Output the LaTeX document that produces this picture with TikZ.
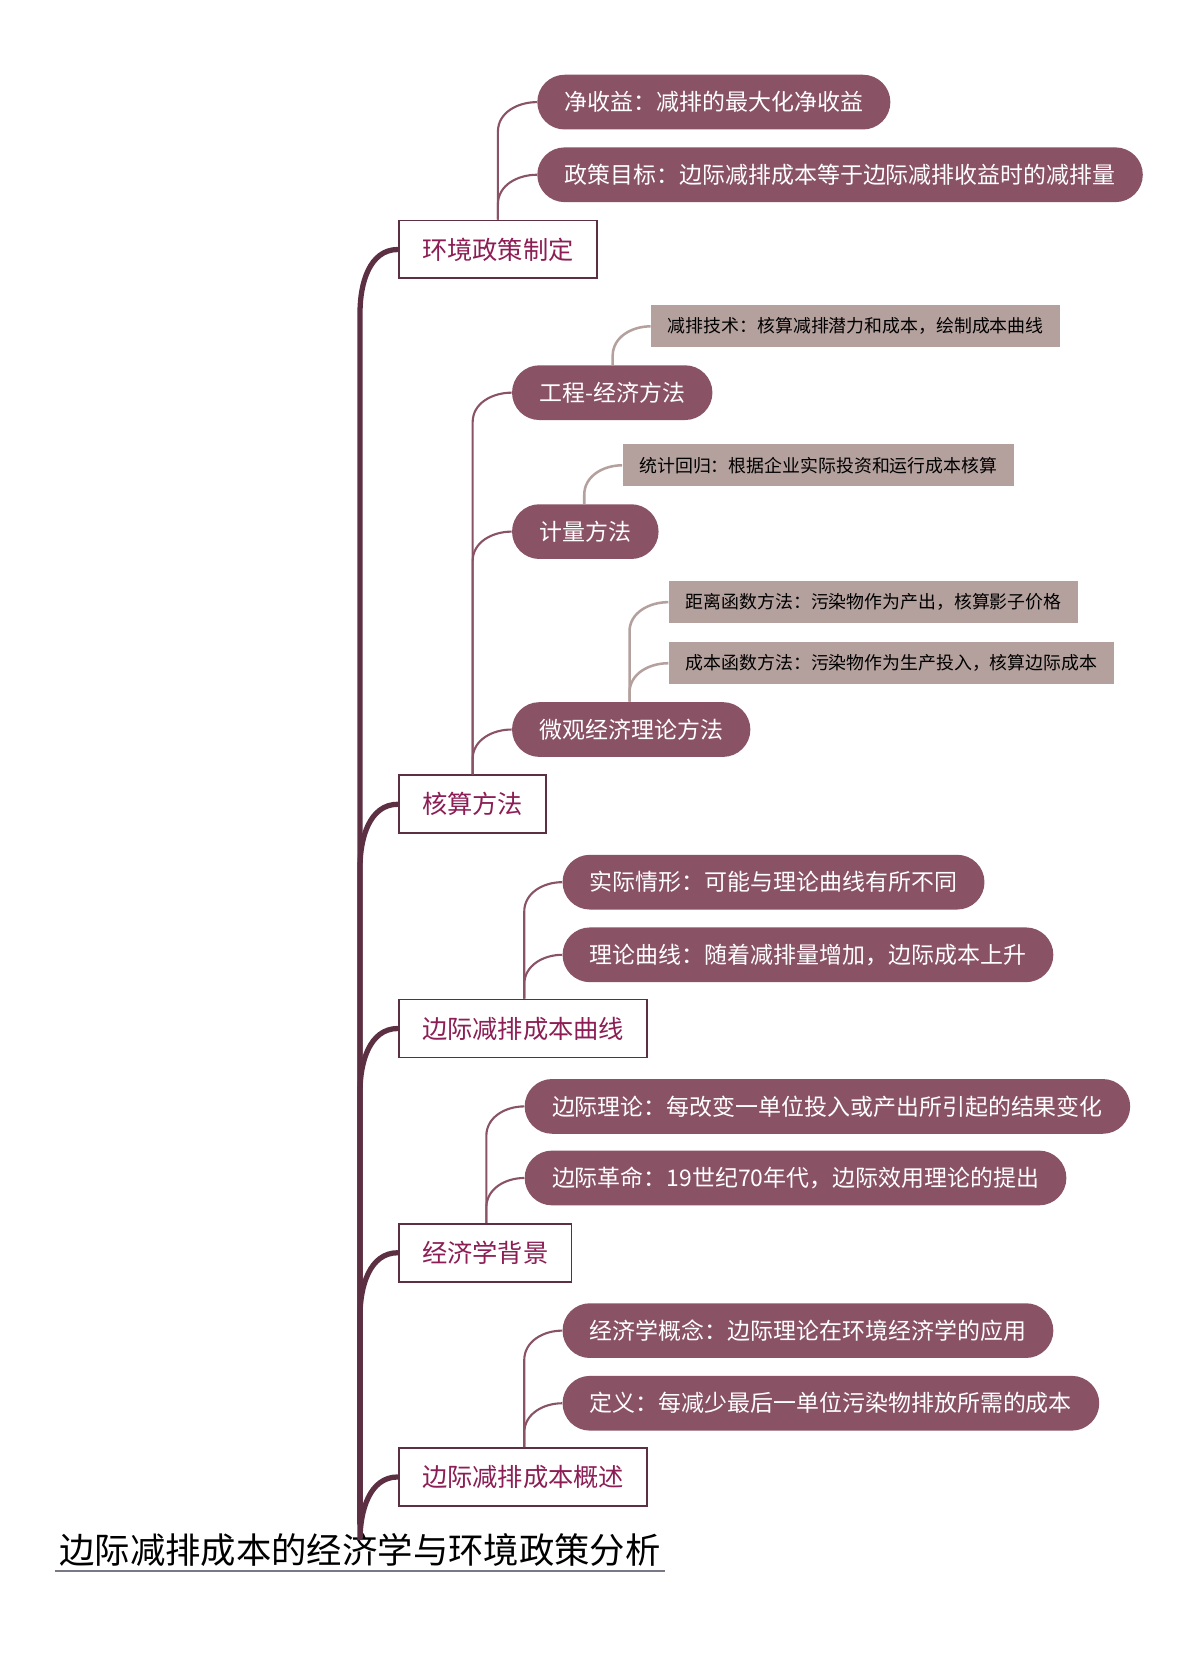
\documentclass[tikz,border=0pt]{standalone}
\usepackage{fontspec}
\setmainfont{Noto Sans CJK SC}
\usetikzlibrary{calc}
\definecolor{trunk_red}{RGB}{92,48,66}
\definecolor{pill_red}{RGB}{138,82,101}
\definecolor{text_red}{RGB}{140,30,85}
\definecolor{leaf_gray}{RGB}{180,161,158}
\definecolor{line_gray}{RGB}{120,120,135}
\newcommand\branch[3][sub]{\draw[#1] (#2) -- ($(#2 |- #3.west)+(0,28)$) to[out=90,in=180] (#3.west);}

\begin{document}
\begin{tikzpicture}[x=0.5pt,y=-0.5pt]
    \tikzstyle{topic}=[draw=trunk_red, line width=0.9pt, fill=white, text=text_red, font=\fontsize{12}{14}\selectfont, minimum height=27.5pt, inner xsep=11pt, anchor=west]
    \tikzstyle{pill}=[fill=pill_red, text=white, rounded corners=13pt, font=\fontsize{10.9}{13}\selectfont, minimum height=26pt, inner xsep=13pt, anchor=west]
    \tikzstyle{leaf}=[fill=leaf_gray, text=black, font=\fontsize{8.5}{10}\selectfont, minimum height=20pt, inner xsep=8pt, anchor=west]
    \tikzstyle{trunk}=[draw=trunk_red, line width=2.5pt]
    \tikzstyle{sub}=[draw=pill_red, line width=1pt]
    \tikzstyle{gsub}=[draw=leaf_gray, line width=1.2pt]
    \useasboundingbox (0,0) rectangle (1140,1575);

    % root
    \node[font=\fontsize{16.8}{19}\selectfont, inner sep=2pt] (root) at (342,1472) {边际减排成本的经济学与环境政策分析};
    \draw[line_gray, line width=1pt] (root.south west) -- (root.south east);
    \coordinate (rt) at (342,1448);

    % first level
    \node[topic] (env)  at (378,237)  {环境政策制定};
    \node[topic] (acct) at (378,764)  {核算方法};
    \node[topic] (curv) at (378,977)  {边际减排成本曲线};
    \node[topic] (back) at (378,1190) {经济学背景};
    \node[topic] (over) at (378,1403) {边际减排成本概述};
    \foreach \t in {env,acct,curv,back,over}
      \draw[trunk] (rt) -- ($(rt |- \t.west)+(0,60)$) to[out=90,in=180] (\t.west);

    % policy
    \node[pill] (net) at (510,97)  {净收益：减排的最大化净收益};
    \node[pill] (aim) at (510,166) {政策目标：边际减排成本等于边际减排收益时的减排量};
    \coordinate (envt) at ([xshift=47.5pt]env.north west);
    \branch{envt}{net}
    \branch{envt}{aim}

    % accounting
    \node[pill] (eng)   at (486,373) {工程-经济方法};
    \node[pill] (econ)  at (486,505) {计量方法};
    \node[pill] (micro) at (486,693) {微观经济理论方法};
    \coordinate (acctt) at ([xshift=35.5pt]acct.north west);
    \branch{acctt}{eng}
    \branch{acctt}{econ}
    \branch{acctt}{micro}
    \node[leaf] (tech) at (618,310) {减排技术：核算减排潜力和成本，绘制成本曲线};
    \node[leaf] (regr) at (591,442) {统计回归：根据企业实际投资和运行成本核算};
    \node[leaf] (dist) at (635,572) {距离函数方法：污染物作为产出，核算影子价格};
    \node[leaf] (cost) at (635,630) {成本函数方法：污染物作为生产投入，核算边际成本};
    \coordinate (engt)   at ([xshift=48pt]eng.north west);
    \coordinate (econt)  at ([xshift=34.5pt]econ.north west);
    \coordinate (microt) at ([xshift=56pt]micro.north west);
    \branch[gsub]{engt}{tech}
    \branch[gsub]{econt}{regr}
    \branch[gsub]{microt}{dist}
    \branch[gsub]{microt}{cost}

    % curve
    \node[pill] (real) at (534,838) {实际情形：可能与理论曲线有所不同};
    \node[pill] (theo) at (534,907) {理论曲线：随着减排量增加，边际成本上升};
    \coordinate (curvt) at ([xshift=60pt]curv.north west);
    \branch{curvt}{real}
    \branch{curvt}{theo}

    % background
    \node[pill] (marg) at (498,1051) {边际理论：每改变一单位投入或产出所引起的结果变化};
    \node[pill] (revo) at (498,1119) {边际革命：19世纪70年代，边际效用理论的提出};
    \coordinate (backt) at ([xshift=42pt]back.north west);
    \branch{backt}{marg}
    \branch{backt}{revo}

    % overview
    \node[pill] (conc) at (534,1264) {经济学概念：边际理论在环境经济学的应用};
    \node[pill] (defn) at (534,1333) {定义：每减少最后一单位污染物排放所需的成本};
    \coordinate (overt) at ([xshift=60pt]over.north west);
    \branch{overt}{conc}
    \branch{overt}{defn}
\end{tikzpicture}
\end{document}
